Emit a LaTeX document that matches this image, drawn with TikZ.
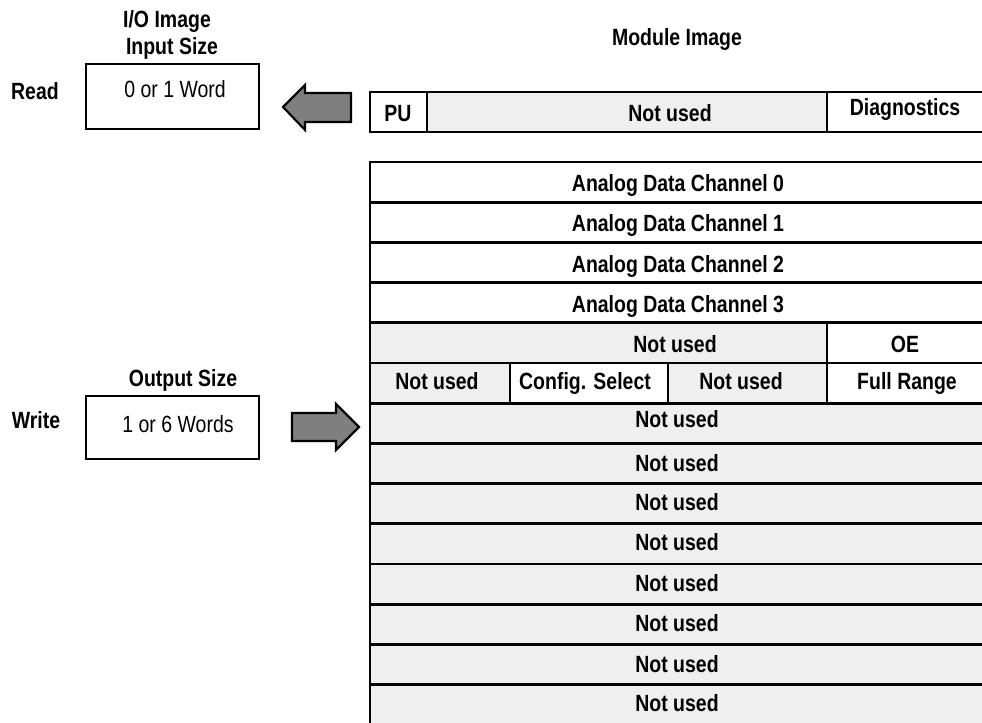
\documentclass[tikz,border=0pt]{standalone}
\usepackage{fontspec}
\setmainfont[FakeStretch=0.83]{Liberation Sans}
\definecolor{cellgrey}{HTML}{EFEFEF}
\definecolor{arrowgrey}{HTML}{7F7F7F}
\begin{document}
\begin{tikzpicture}[x=0.75pt,y=-0.75pt,
  txt/.style={inner sep=0pt, anchor=base, font=\fontsize{17.6}{20}\selectfont\bfseries},
  plaintxt/.style={inner sep=0pt, anchor=base, font=\fontsize{17.6}{20}\selectfont},
  grid/.style={draw=black, line width=2pt},
  boxline/.style={draw=black, line width=1.6pt, inner sep=0pt, fill=white},
  bigarrow/.style={fill=arrowgrey, draw=black, line width=1.6pt, line join=miter}]
\useasboundingbox[fill=white] (0,0) rectangle (982,723);

% ---- left side: I/O image ----
\node[txt] (iotitle) at (167,27.5) {I/O Image};
\node[txt] (insize) at (172,55) {Input Size};
\node[txt] (read) at (35,100) {Read};
\node[boxline, anchor=north west, minimum width=129.75pt, minimum height=48.75pt] (inbox) at (85,63) {};
\node[plaintxt] (inwords) at (175,98) {0 or 1 Word};

\node[txt] (outsize) at (183,387) {Output Size};
\node[txt] (write) at (36,428.5) {Write};
\node[boxline, anchor=north west, minimum width=129.75pt, minimum height=47.25pt] (outbox) at (85,395) {};
\node[plaintxt] (outwords) at (178,433) {1 or 6 Words};

% ---- arrows ----
\path[bigarrow] (283,107) -- (305,85) -- (305,93) -- (351,93) -- (351,122) -- (305,122) -- (305,130) -- cycle;
\path[bigarrow] (359,427) -- (336,404) -- (336,413) -- (292,413) -- (292,441) -- (336,441) -- (336,450) -- cycle;

% ---- module image ----
\node[txt] (modtitle) at (677,46) {Module Image};

% top (read) row
\path[grid, fill=white] (370,92) rectangle (427,132);
\path[grid, fill=cellgrey] (427,92) rectangle (827,132);
\path[grid, fill=white] (827,92) rectangle (995,132);
\node[txt] (pu) at (398,121.5) {PU};
\node[txt] (nutop) at (670,121.5) {Not used};
\node[txt] (diag) at (905,115.5) {Diagnostics};

% write table
\foreach \i/\b in {0/191.5,1/231.5,2/273,3/312.5} {
  \path[grid, fill=white] (370,162+40.2*\i) rectangle (995,202.2+40.2*\i);
  \node[txt] (ch\i) at (678,\b) {Analog Data Channel \i};
}
% row 4
\path[grid, fill=cellgrey] (370,322.8) rectangle (827,363);
\path[grid, fill=white] (827,322.8) rectangle (995,363);
\node[txt] (nu4) at (675,353) {Not used};
\node[txt] (oe) at (905,353) {OE};
% row 5
\path[grid, fill=cellgrey] (370,363) rectangle (510,403.2);
\path[grid, fill=white] (510,363) rectangle (668,403.2);
\path[grid, fill=cellgrey] (668,363) rectangle (827,403.2);
\path[grid, fill=white] (827,363) rectangle (995,403.2);
\node[txt] (nu5a) at (437,390) {Not used};
\node[txt] (cfg) at (585,390) {Config. Select};
\node[txt] (nu5b) at (741,390) {Not used};
\node[txt] (full) at (907,390) {Full Range};
% rows 6..13
\foreach \i/\b in {6/427.5,7/472,8/510.5,9/550.5,10/591.5,11/631.5,12/672.5,13/711.5} {
  \path[grid, fill=cellgrey] (370,162+40.2*\i) rectangle (995,202.2+40.2*\i);
  \node[txt] (nu\i) at (677,\b) {Not used};
}
\end{tikzpicture}
\end{document}
